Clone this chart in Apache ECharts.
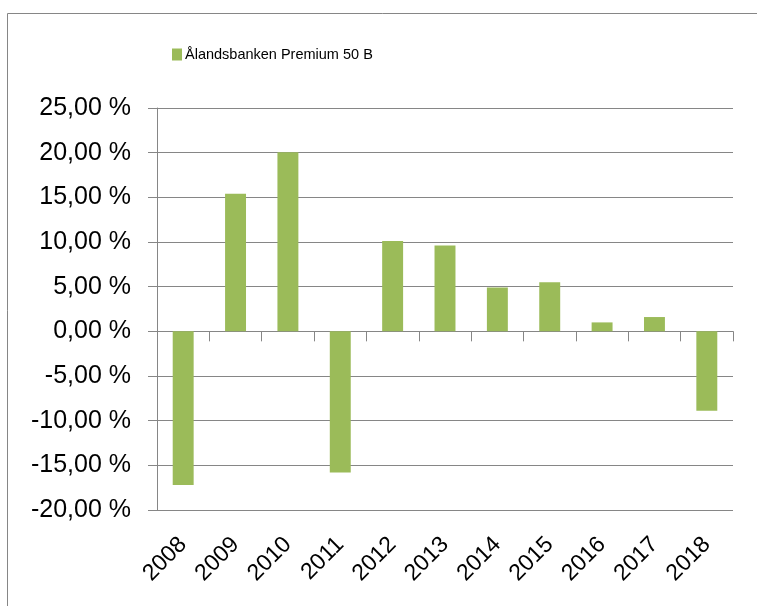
<!DOCTYPE html>
<html>
<head>
<meta charset="utf-8">
<script src="https://cdn.jsdelivr.net/npm/echarts@6/dist/echarts.min.js"></script>
<style>
html,body{margin:0;padding:0;background:#fff;}
#c{width:757px;height:606px;}
</style>
</head>
<body>
<div id="c"></div>
<script>
const categories = ['2008','2009','2010','2011','2012','2013','2014','2015','2016','2017','2018'];
const seriesName = 'Ålandsbanken Premium 50 B';
const values = [-17.2, 15.4, 20.05, -15.8, 10.1, 9.6, 4.9, 5.5, 1.0, 1.6, -8.9];
const yMin = -20, yMax = 25, yStep = 5;

const chart = echarts.init(document.getElementById('c'));
const grey = '#868686';
chart.setOption({
  animation: false,
  backgroundColor: '#fff',
  graphic: [{
    type: 'rect', shape: {x: 7.5, y: 13.5, width: 800, height: 700},
    style: {fill: 'none', stroke: grey, lineWidth: 1}, silent: true
  }],
  legend: {
    left: 172, top: 47, padding: 0,
    itemWidth: 10, itemHeight: 12, icon: 'rect',
    textStyle: {fontFamily: '"Liberation Sans", sans-serif', fontSize: 14.5, color: '#000', padding: [0, 0, 0, -2]},
    data: [seriesName]
  },
  grid: {left: 157, right: 24, top: 108, bottom: 96, containLabel: false},
  xAxis: [{
    type: 'category', data: categories,
    axisLine: {onZero: true, lineStyle: {color: grey, width: 1}},
    axisTick: {show: true, length: 10, lineStyle: {color: grey}},
    axisLabel: {show: false},
    splitLine: {show: false}
  }, {
    type: 'category', data: categories, position: 'bottom',
    axisLine: {show: false, onZero: false},
    axisTick: {show: false},
    axisLabel: {rotate: 45, margin: 31, fontFamily: '"Liberation Sans", sans-serif', fontSize: 23, color: '#000'}
  }],
  yAxis: {
    type: 'value', min: yMin, max: yMax, interval: yStep,
    axisLine: {show: true, lineStyle: {color: grey}},
    axisTick: {show: true, length: 9, lineStyle: {color: grey}},
    axisLabel: {
      margin: 26, fontFamily: '"Liberation Sans", sans-serif', fontSize: 25, color: '#000',
      formatter: v => v.toFixed(2).replace('.', ',') + ' %'
    },
    splitLine: {show: true, lineStyle: {color: grey, width: 1}}
  },
  series: [{
    name: seriesName, type: 'bar', xAxisIndex: 0,
    data: values, barWidth: '40%',
    itemStyle: {color: '#9BBB59'}
  }]
});
</script>
</body>
</html>
